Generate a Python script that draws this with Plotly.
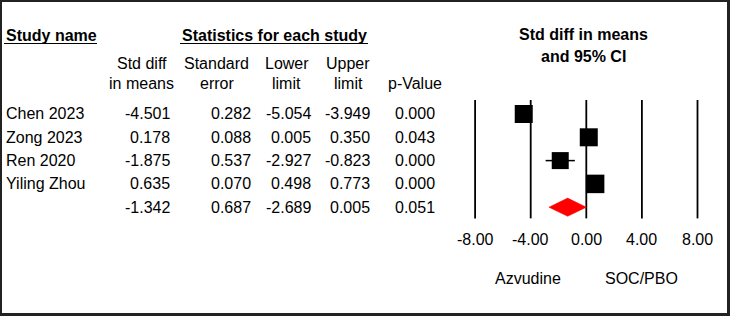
import plotly.graph_objects as go

# ---- data ----
studies = ["Chen 2023", "Zong 2023", "Ren 2020", "Yiling Zhou"]
smd = [-4.501, 0.178, -1.875, 0.635]
std_err = [0.282, 0.088, 0.537, 0.070]
lower = [-5.054, 0.005, -2.927, 0.498]
upper = [-3.949, 0.350, -0.823, 0.773]
p_values = [0.000, 0.043, 0.000, 0.000]

pooled_smd = -1.342
pooled_se = 0.687
pooled_lower = -2.689
pooled_upper = 0.005
pooled_p = 0.051

tick_vals = [-8, -4, 0, 4, 8]
tick_labels = ["-8.00", "-4.00", "0.00", "4.00", "8.00"]

# ---- layout constants ----
W, H = 730, 316
FONT = "Liberation Sans, Arial, sans-serif"
FS = 16
square_sizes = [18, 18, 17, 18.5]


def px(x):
    return x / W


def py(y):
    return 1 - y / H


rows = list(range(len(studies)))
pooled_row = len(studies)

fig = go.Figure()

# study squares with CI whiskers
fig.add_trace(go.Scatter(
    x=smd, y=rows, mode="markers",
    marker=dict(symbol="square", size=square_sizes, color="black", opacity=1, line=dict(width=0)),
    error_x=dict(type="data", symmetric=False,
                 array=[u - m for u, m in zip(upper, smd)],
                 arrayminus=[m - l for m, l in zip(smd, lower)],
                 color="black", thickness=1.5, width=0),
    hoverinfo="skip", showlegend=False,
))

# pooled diamond
h = 0.39
fig.add_trace(go.Scatter(
    x=[pooled_lower, pooled_smd, pooled_upper, pooled_smd, pooled_lower],
    y=[pooled_row, pooled_row - h, pooled_row, pooled_row + h, pooled_row],
    mode="lines", fill="toself", fillcolor="#ff0000",
    line=dict(color="#ff0000", width=0.5),
    hoverinfo="skip", showlegend=False,
))

shapes = []
# vertical reference lines at tick positions
for t in tick_vals:
    shapes.append(dict(type="line", xref="x", yref="y", x0=t, x1=t, y0=-0.6, y1=4.48,
                       line=dict(color="black", width=1.8), layer="below"))

# frame
shapes += [
    dict(type="line", xref="paper", yref="paper", x0=px(1), x1=px(1), y0=0, y1=1,
         line=dict(color="#222", width=2)),
    dict(type="line", xref="paper", yref="paper", x0=0, x1=1, y0=py(1), y1=py(1),
         line=dict(color="#222", width=2)),
    dict(type="line", xref="paper", yref="paper", x0=px(728.5), x1=px(728.5), y0=0, y1=1,
         line=dict(color="#222", width=3)),
    dict(type="line", xref="paper", yref="paper", x0=0, x1=1, y0=py(314.5), y1=py(314.5),
         line=dict(color="#222", width=3)),
    # header underlines
    dict(type="line", xref="paper", yref="paper", x0=px(4), x1=px(97), y0=py(43.5), y1=py(43.5),
         line=dict(color="black", width=1.2)),
    dict(type="line", xref="paper", yref="paper", x0=px(180), x1=px(368), y0=py(43.5), y1=py(43.5),
         line=dict(color="black", width=1.2)),
]

ann = []


def text(x, y, s, anchor="left", bold=False, size=FS):
    ann.append(dict(x=px(x), y=py(y), xref="paper", yref="paper", text=("<b>%s</b>" % s) if bold else s,
                    showarrow=False, xanchor=anchor, yanchor="middle",
                    font=dict(family=FONT, size=size, color="black")))


# headers
text(4, 35, "Study name", bold=True)
text(180, 35, "Statistics for each study", bold=True)
text(583, 34, "Std diff in means", anchor="center", bold=True)
text(583, 57, "and 95% CI", anchor="center", bold=True)

col_centers = [141.7, 216.7, 286.7, 348.3]
head1 = ["Std diff", "Standard", "Lower", "Upper"]
head2 = ["in means", "error", "limit", "limit"]
for c, a, b in zip(col_centers, head1, head2):
    text(c, 63.5, a, anchor="center")
    text(c, 83.5, b, anchor="center")
text(415, 83.5, "p-Value", anchor="center")

row_y0 = 114
row_dy = 23.3
col_right = [172.3, 253.3, 313.3, 371.7, 436.7]

for i, name in enumerate(studies):
    y = row_y0 + i * row_dy
    text(4, y, name)
    vals = [smd[i], std_err[i], lower[i], upper[i], p_values[i]]
    for xr, v in zip(col_right, vals):
        text(xr, y, "%.3f" % v, anchor="right")

y = row_y0 + pooled_row * row_dy
for xr, v in zip(col_right, [pooled_smd, pooled_se, pooled_lower, pooled_upper, pooled_p]):
    text(xr, y, "%.3f" % v, anchor="right")

# tick labels
for t, lab in zip(tick_vals, tick_labels):
    ann.append(dict(x=t, y=py(239.5), xref="x", yref="paper", text=lab, showarrow=False,
                    xanchor="center", yanchor="middle",
                    font=dict(family=FONT, size=FS, color="black")))

text(528.3, 278.5, "Azvudine", anchor="center")
text(641.7, 278.5, "SOC/PBO", anchor="center")

x0_px = 586.3
scale = 13.9
fig.update_layout(
    width=W, height=H,
    margin=dict(l=0, r=0, t=0, b=0),
    paper_bgcolor="white", plot_bgcolor="white",
    xaxis=dict(range=[-x0_px / scale, (W - x0_px) / scale], visible=False, fixedrange=True),
    yaxis=dict(range=[(H - row_y0) / row_dy, -row_y0 / row_dy], visible=False, fixedrange=True),
    shapes=shapes, annotations=ann,
)

fig.write_html("out.html", config={"displayModeBar": False},
               post_script="document.body.style.margin='0px';document.body.style.overflow='hidden';")
